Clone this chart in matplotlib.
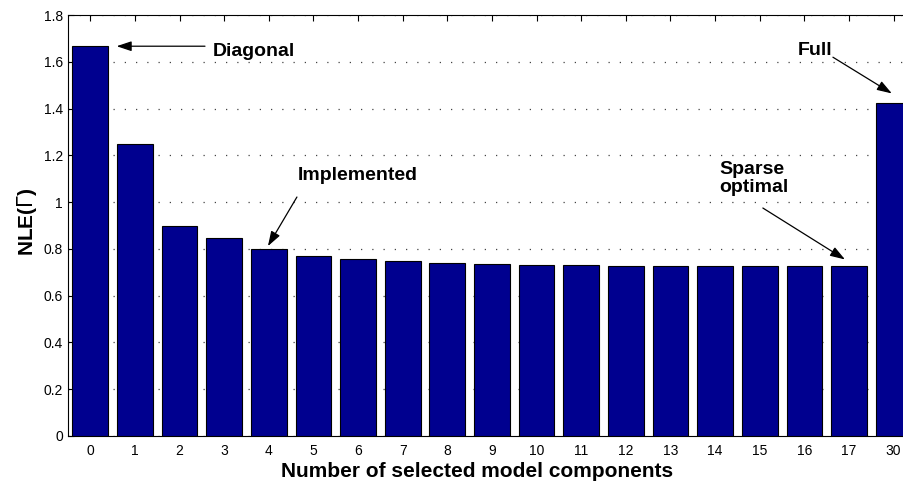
import matplotlib
matplotlib.use("Agg")
import matplotlib.pyplot as plt
import numpy as np

plt.rcParams['font.family'] = ['Liberation Sans', 'DejaVu Sans']

# Number of selected components and the resulting NLE
categories = ["0", "1", "2", "3", "4", "5", "6", "7", "8", "9",
              "10", "11", "12", "13", "14", "15", "16", "17", "30"]
nle_values = [1.667, 1.25, 0.897, 0.845, 0.80, 0.768, 0.757, 0.748, 0.740,
              0.736, 0.733, 0.731, 0.728, 0.727, 0.726, 0.726, 0.726, 0.726,
              1.424]
y_ticks = [0, 0.2, 0.4, 0.6, 0.8, 1, 1.2, 1.4, 1.6, 1.8]
y_tick_labels = ["0", "0.2", "0.4", "0.6", "0.8", "1", "1.2", "1.4", "1.6", "1.8"]

fig = plt.figure(figsize=(9.04, 4.86), dpi=100)
ax = fig.add_axes([0.0752, 0.1029, 0.938, 0.866])

x = np.arange(len(categories))
ax.bar(x, nle_values, width=0.8, color="#00008F", edgecolor="black",
       linewidth=0.8, zorder=3)

ax.set_xlim(-0.5, len(categories) - 0.5)
ax.set_ylim(0, 1.8)
ax.set_xticks(x)
ax.set_xticklabels(categories)
ax.set_yticks(y_ticks)
ax.set_yticklabels(y_tick_labels)
ax.tick_params(direction="in", top=True, right=True, length=4, labelsize=10)
ax.tick_params(axis="x", pad=6)
ax.yaxis.grid(True, linestyle=(0, (1, 8)), color="#444444", linewidth=0.9, zorder=0)

ax.set_xlabel("Number of selected model components", fontsize=15,
              fontweight="bold")
ax.xaxis.set_label_coords(0.482, -0.062)
ax.set_ylabel(r"NLE($\Gamma$)", fontsize=15, fontweight="bold")
ax.yaxis.set_label_coords(-0.034, 0.508)

arrow = dict(arrowstyle="-|>,head_length=0.9,head_width=0.3", color="black",
             lw=0.9, shrinkA=0, shrinkB=0)
text_kw = dict(fontsize=14, fontweight="bold", va="center", ha="left")

ax.text(2.75, 1.645, "Diagonal", **text_kw)
ax.annotate("", xy=(0.59, nle_values[0]), xytext=(2.57, nle_values[0]),
            arrowprops=arrow)

ax.text(4.65, 1.116, "Implemented", **text_kw)
ax.annotate("", xy=(3.98, 0.812), xytext=(4.63, 1.022), arrowprops=arrow)

ax.text(14.1, 1.10, "Sparse\noptimal", linespacing=1.05, **text_kw)
ax.annotate("", xy=(16.91, 0.755), xytext=(15.07, 0.975), arrowprops=arrow)

ax.text(15.86, 1.65, "Full", **text_kw)
ax.annotate("", xy=(17.96, 1.465), xytext=(16.64, 1.62), arrowprops=arrow)

fig.savefig("out.png", dpi=100)
